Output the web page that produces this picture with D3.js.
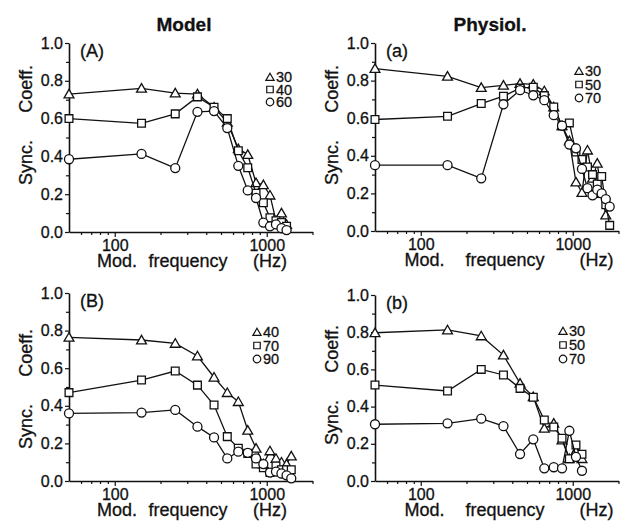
<!DOCTYPE html>
<html>
<head>
<meta charset="utf-8">
<script src="https://cdn.jsdelivr.net/npm/d3@7"></script>
<style>
body { margin: 0; background: #fff; }
svg { display: block; }
text { font-family: "Liberation Sans", Arial, Helvetica, sans-serif; fill: #111; stroke: #111; stroke-width: 0.3px; }
</style>
</head>
<body>
<svg id="fig" width="624" height="521"></svg>
<script>
// modulation frequencies (Hz)
const freqModelA = [50, 150, 250, 350, 450, 550, 650, 750, 850, 950, 1050, 1150, 1250, 1350];
const freqPhysA = [50, 150, 250, 350, 450, 550, 650, 750, 850, 950, 1050, 1150, 1250, 1350, 1450, 1550, 1650, 1750];
const freqModelB = [50, 150, 250, 350, 450, 550, 650, 750, 850, 950, 1050, 1150, 1250, 1350, 1450];
const freqPhysB = [50, 150, 250, 350, 450, 550, 650, 750, 850, 950, 1050, 1150];

// sound levels (dB) shown in the legends
const levelsModelA = ["30", "40", "60"];
const levelsPhysA = ["30", "50", "70"];
const levelsModelB = ["40", "70", "90"];
const levelsPhysB = ["30", "50", "70"];

// synchronization coefficients
const modelA30 = [0.73, 0.76, 0.735, 0.73, 0.66, 0.58, 0.44, 0.41, 0.26, 0.25, 0.195, 0.06, 0.10, 0.04];
const modelA40 = [0.60, 0.575, 0.625, 0.715, 0.66, 0.60, 0.43, 0.34, 0.205, 0.155, 0.075, 0.06, 0.05, 0.03];
const modelA60 = [0.385, 0.413, 0.338, 0.636, 0.64, 0.55, 0.35, 0.22, 0.18, 0.05, 0.03, 0.04, 0.02, 0.01];

const physA30 = [0.864, 0.823, 0.763, 0.775, 0.784, 0.78, 0.745, 0.66, 0.56, 0.48, 0.26, 0.205, 0.43, 0.28, 0.36, 0.20, 0.085, null];
const physA50 = [0.593, 0.61, 0.678, 0.717, 0.76, 0.765, 0.72, 0.66, 0.558, 0.575, 0.42, 0.38, 0.34, 0.30, 0.25, 0.29, 0.14, 0.03];
const physA70 = [0.35, 0.35, 0.28, 0.674, 0.749, 0.722, 0.696, 0.616, 0.56, 0.46, 0.44, 0.33, 0.228, 0.19, 0.22, 0.20, 0.17, 0.13];

const modelB40 = [0.764, 0.75, 0.732, 0.665, 0.552, 0.47, 0.422, 0.27, 0.174, 0.09, 0.16, 0.12, 0.10, 0.09, 0.133];
const modelB70 = [0.47, 0.537, 0.585, 0.51, 0.404, 0.236, 0.174, 0.147, 0.09, 0.07, 0.045, 0.08, 0.06, 0.06, 0.06];
const modelB90 = [0.36, 0.364, 0.378, 0.289, 0.232, 0.12, 0.156, 0.15, 0.12, 0.09, 0.045, 0.05, 0.04, 0.03, 0.014];

const physB30 = [0.797, 0.812, 0.78, 0.677, 0.525, 0.453, 0.283, 0.31, 0.22, 0.12, 0.16, 0.12];
const physB50 = [0.516, 0.484, 0.6, 0.57, 0.498, 0.45, 0.328, 0.29, 0.23, 0.12, 0.194, 0.144];
const physB70 = [0.305, 0.31, 0.335, 0.295, 0.145, 0.224, 0.068, 0.074, 0.068, 0.27, 0.13, 0.055];

const xDomain = [50, 2000];
const xMajor = [100, 1000];
const xMinor = [60, 70, 80, 90, 200, 300, 400, 500, 600, 700, 800, 900, 2000];
const yMajor = [0, 0.2, 0.4, 0.6, 0.8, 1.0];
const yMinor = [0.1, 0.3, 0.5, 0.7, 0.9];

const shapes = [d3.symbolTriangle, d3.symbolSquare, d3.symbolCircle];
const shapeSize = [42, 60, 64];

const svg = d3.select("#fig");

svg.append("text").text("Model").attr("x", 184).attr("y", 31)
    .attr("text-anchor", "middle").style("font-size", "19px").style("font-weight", "bold");
svg.append("text").text("Physiol.").attr("x", 490).attr("y", 31)
    .attr("text-anchor", "middle").style("font-size", "19px").style("font-weight", "bold");

const panels = [
    {label: "(A)", freqs: freqModelA, series: [modelA30, modelA40, modelA60], levels: levelsModelA,
     left: 69, bottom: 232, top: 43, ylabY: 125, xlabX: 192, xlabW: 190, legX: 270, legY: 77, legDy: 12.5},
    {label: "(a)", freqs: freqPhysA, series: [physA30, physA50, physA70], levels: levelsPhysA,
     left: 375, bottom: 231, top: 43, ylabY: 125, xlabX: 509, xlabW: 209, legX: 579, legY: 71, legDy: 13.5},
    {label: "(B)", freqs: freqModelB, series: [modelB40, modelB70, modelB90], levels: levelsModelB,
     left: 69, bottom: 481, top: 293, ylabY: 389, xlabX: 192, xlabW: 190, legX: 257, legY: 332, legDy: 13.5},
    {label: "(b)", freqs: freqPhysB, series: [physB30, physB50, physB70], levels: levelsPhysB,
     left: 375, bottom: 481, top: 295, ylabY: 385, xlabX: 509, xlabW: 209, legX: 563, legY: 331, legDy: 14}
];

panels.forEach(drawPanel);

function drawPanel(p)
{
    const x = d3.scaleLog().domain(xDomain).range([p.left, p.left + 243.5]);
    const y = d3.scaleLinear().domain([0, 1]).range([p.bottom, p.top]);
    const g = svg.append("g");

    // y axis
    g.append("g").attr("transform", `translate(${p.left},0)`)
        .call(d3.axisLeft(y).tickValues(yMajor).tickFormat(d3.format(".1f")).tickSize(4).tickSizeOuter(0).tickPadding(2));
    g.append("g").attr("transform", `translate(${p.left},0)`)
        .call(d3.axisLeft(y).tickValues(yMinor).tickFormat("").tickSize(3).tickSizeOuter(0))
        .select(".domain").remove();

    // x axis
    g.append("g").attr("transform", `translate(0,${p.bottom})`)
        .call(d3.axisBottom(x).tickValues(xMajor).tickFormat(d3.format("d")).tickSize(5).tickSizeOuter(0).tickPadding(3));
    g.append("g").attr("transform", `translate(0,${p.bottom})`)
        .call(d3.axisBottom(x).tickValues(xMinor).tickFormat("").tickSize(3).tickSizeOuter(0))
        .select(".domain").remove();

    g.selectAll(".domain").attr("stroke", "#111").attr("stroke-width", 1.6);
    g.selectAll(".tick line").attr("stroke", "#111").attr("stroke-width", 1.2);
    g.selectAll(".tick text").attr("fill", "#111")
        .style("font-size", "16px").style("font-family", '"Liberation Sans", Arial, sans-serif');

    // axis titles, words spread apart like the original
    const yl = g.append("text")
        .attr("transform", `translate(${p.left - 37},${p.ylabY}) rotate(-90)`)
        .style("font-size", "18px");
    yl.append("tspan").text("Sync.").attr("x", -60).attr("text-anchor", "start");
    yl.append("tspan").text("Coeff.").attr("x", 60).attr("text-anchor", "end");

    const xl = g.append("text").attr("y", p.bottom + 35).style("font-size", "18px");
    xl.append("tspan").text("Mod.").attr("x", p.xlabX - p.xlabW / 2).attr("text-anchor", "start");
    xl.append("tspan").text("frequency").attr("x", p.xlabX - 4).attr("text-anchor", "middle");
    xl.append("tspan").text("(Hz)").attr("x", p.xlabX + p.xlabW / 2).attr("text-anchor", "end");

    // panel label
    g.append("text").text(p.label).attr("x", p.left + 11).attr("y", p.top + 14)
        .style("font-size", "18px");

    // series
    const line = d3.line()
        .defined(d => d[1] != null)
        .x(d => x(d[0]))
        .y(d => y(d[1]));

    p.series.forEach((vals, i) => {
        const pts = p.freqs.map((f, k) => [f, vals[k]]);
        g.append("path").datum(pts)
            .attr("d", line)
            .attr("fill", "none").attr("stroke", "#111").attr("stroke-width", 1.3);
        g.selectAll(null).data(pts.filter(d => d[1] != null)).join("path")
            .attr("transform", d => `translate(${x(d[0])},${y(d[1]) + (i == 0 ? 1 : 0)})`)
            .attr("d", d3.symbol(shapes[i], shapeSize[i]))
            .attr("fill", "#fff").attr("stroke", "#111").attr("stroke-width", 1.3);
    });

    // legend
    const leg = g.append("g");
    p.levels.forEach((lev, i) => {
        const ly = p.legY + i * p.legDy;
        leg.append("path")
            .attr("transform", `translate(${p.legX},${ly + (i == 0 ? 1 : 0)})`)
            .attr("d", d3.symbol(shapes[i], shapeSize[i] * 0.7))
            .attr("fill", "#fff").attr("stroke", "#111").attr("stroke-width", 1.2);
        leg.append("text").text(lev)
            .attr("x", p.legX + 6).attr("y", ly + 5)
            .style("font-size", "14.5px");
    });
}
</script>
</body>
</html>
